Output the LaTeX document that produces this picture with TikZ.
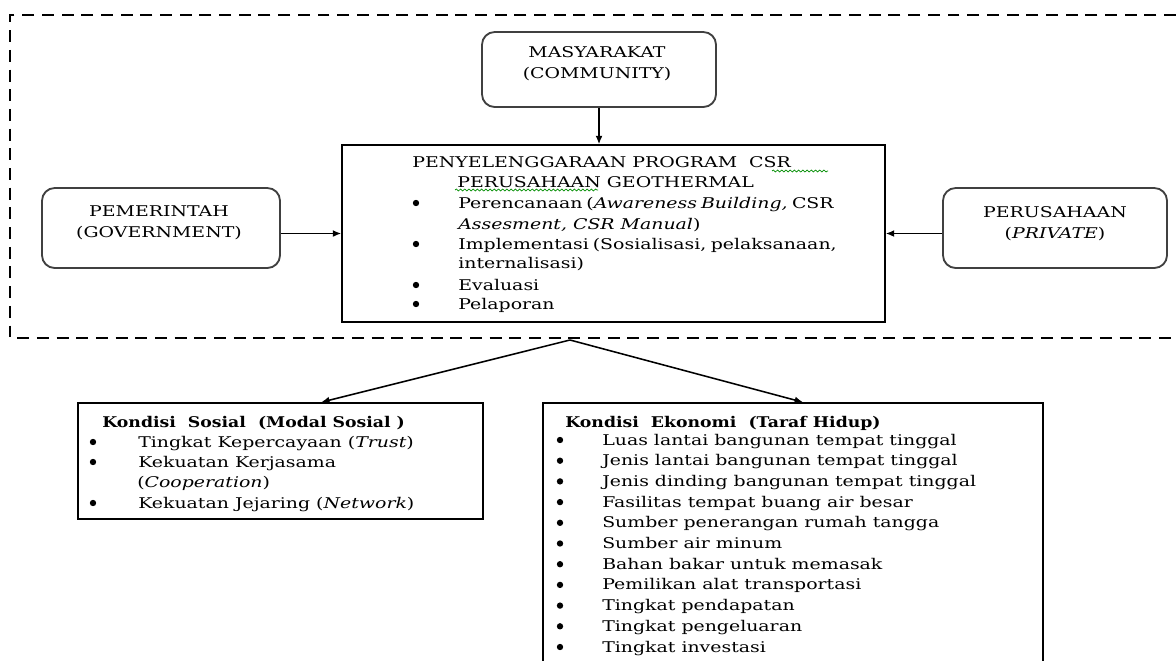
\documentclass[tikz,border=0pt]{standalone}
\usepackage{fontspec}
\setmainfont{DejaVu Serif}[FakeStretch=1.28]
\newfontfamily\headfont{DejaVu Serif}[FakeStretch=1.17]
\usetikzlibrary{arrows.meta,calc,fit,decorations.pathmorphing}

\begin{document}
\begin{tikzpicture}[x=0.025cm, y=-0.025cm, font=\fontsize{10.5}{12}\selectfont, >={Latex[length=6pt,width=5pt]}]
\path [use as bounding box] (0,0) rectangle (1176,660);
\tikzstyle{roundbox} = [draw=black!75, line width=1.3pt, rounded corners=9pt, inner sep=0pt]
\tikzstyle{sqbox} = [draw, line width=1.1pt, inner sep=0pt]
\tikzstyle{txt} = [anchor=base west, inner sep=0pt]
\tikzstyle{ctxt} = [anchor=base, inner sep=0pt]
\tikzstyle{head} = [anchor=base west, inner sep=0pt, font=\fontsize{10.5}{12}\headfont\bfseries]
\tikzstyle{bullet} = [circle, fill, inner sep=1.6pt]
\tikzstyle{conn} = [->, line width=1.1pt]
\tikzstyle{spell} = [green!55!black, line width=0.5pt, decorate, decoration={snake, amplitude=0.7pt, segment length=3pt}]
\draw[line width=2pt, dash pattern=on 8.5pt off 5.5pt] (1176,15) -- (10,15) -- (10,338) -- (1176,338);
\node[roundbox, fit={(482,32) (716,107)}] (masy) {};
\node[roundbox, fit={(42,188) (280,268)}] (gov) {};
\node[roundbox, fit={(943,188) (1167,268)}] (priv) {};
\node[sqbox, fit={(342,145) (885,322)}] (cent) {};
\node[sqbox, fit={(78,403) (483,519)}] (soc) {};
\node[sqbox, fit={(543,403) (1043,690)}] (eco) {};
\node[ctxt] (m1) at (597,57) {MASYARAKAT};
\node[ctxt] (m2) at (597,78) {(COMMUNITY)};
\node[ctxt] (g1) at (159,216) {PEMERINTAH};
\node[ctxt] (g2) at (159,237) {(GOVERNMENT)};
\node[ctxt] (p1) at (1055,217) {PERUSAHAAN};
\node[ctxt] (p2) at (1055,238) {(\textit{PRIVATE})};
\node[txt] (c1) at (412,167) {PENYELENGGARAAN PROGRAM\ \ CSR};
\node[txt] (c2) at (457,187) {PERUSAHAAN GEOTHERMAL};
	\draw[spell] (772,171) -- (828,171);
	\draw[spell] (455,190) -- (598,190);
\foreach \y [count=\i] in {208,249,290,309} {
	\node[bullet] (cb\i) at (416,\y-5) {};
}
\node[txt] (ct1) at (458,208) {\makebox[9.3cm][s]{Perencanaan (\textit{Awareness Building,} CSR}};
\node[txt] (ct2) at (458,229) {\textit{Assesment, CSR Manual})};
\node[txt] (ct3) at (458,249) {\makebox[9.3cm][s]{Implementasi (Sosialisasi, pelaksanaan,}};
\node[txt] (ct4) at (458,268) {internalisasi)};
\node[txt] (ct5) at (458,290) {Evaluasi};
\node[txt] (ct6) at (458,309) {Pelaporan};
\node[head] (s0) at (102,427) {Kondisi\ \ Sosial\ \ (Modal Sosial\ )};
\foreach \y [count=\i] in {447,467,508} {
	\node[bullet] (sb\i) at (93,\y-5) {};
}
\node[txt] (s1) at (138,447) {Tingkat Kepercayaan (\textit{Trust})};
\node[txt] (s2) at (138,467) {Kekuatan Kerjasama};
\node[txt] (s3) at (137,487) {(\textit{Cooperation})};
\node[txt] (s4) at (138,508) {Kekuatan Jejaring (\textit{Network})};
\node[head] (e0) at (565,427) {Kondisi\ \ Ekonomi\ \ (Taraf Hidup)};
\foreach \t [count=\i from 0] in {Luas lantai bangunan tempat tinggal, Jenis lantai bangunan tempat tinggal, Jenis dinding bangunan tempat tinggal, Fasilitas tempat buang air besar, Sumber penerangan rumah tangga, Sumber air minum, Bahan bakar untuk memasak, Pemilikan\ alat transportasi, Tingkat pendapatan, Tingkat pengeluaran, Tingkat investasi} {
	\node[bullet] (eb\i) at (560,{440+20.7*\i}) {};
	\node[txt] (et\i) at (602,{445+20.7*\i}) {\t};
}
\coordinate (A) at (570,340);
	\draw[conn] (masy.south) -- (masy.south |- cent.north);
	\draw[conn] (gov.east |- cent.west) -- (cent.west);
	\draw[conn] (priv.west |- cent.east) -- (cent.east);
	\draw[conn] (A) -- ($(soc.north west)!0.6!(soc.north east)$);
	\draw[conn] (A) -- ($(eco.north west)!0.52!(eco.north east)$);
\end{tikzpicture}
\end{document}
